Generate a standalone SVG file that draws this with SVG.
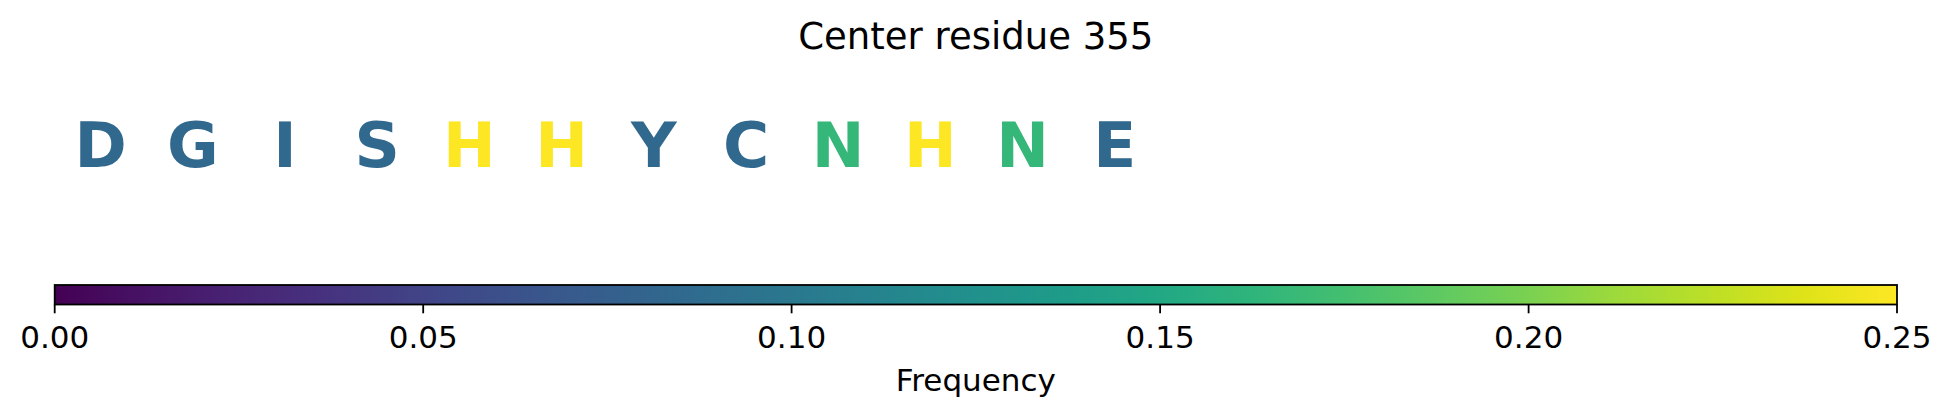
<svg xmlns="http://www.w3.org/2000/svg" width="1952" height="416" viewBox="0 0 1952 416">
<defs>
<style>
.t{font-family:"DejaVu Sans","Liberation Sans",sans-serif;fill:#000;text-anchor:middle}
.r{font-family:"DejaVu Sans","Liberation Sans",sans-serif;font-weight:bold;font-size:63px;text-anchor:middle}
.lo{fill:#31688e}.mid{fill:#35b779}.hi{fill:#fde725}
.tick{stroke:#000;stroke-width:1.8}
</style>
<linearGradient id="viridis" x1="0" y1="0" x2="1" y2="0">
<stop offset="0" stop-color="#440154"/>
<stop offset="0.05" stop-color="#471365"/>
<stop offset="0.1" stop-color="#482475"/>
<stop offset="0.15" stop-color="#46337f"/>
<stop offset="0.2" stop-color="#414487"/>
<stop offset="0.25" stop-color="#3b528b"/>
<stop offset="0.3" stop-color="#355f8d"/>
<stop offset="0.35" stop-color="#2f6c8e"/>
<stop offset="0.4" stop-color="#2a788e"/>
<stop offset="0.45" stop-color="#25848e"/>
<stop offset="0.5" stop-color="#21918c"/>
<stop offset="0.55" stop-color="#1e9c89"/>
<stop offset="0.6" stop-color="#22a884"/>
<stop offset="0.65" stop-color="#2fb47c"/>
<stop offset="0.7" stop-color="#44bf70"/>
<stop offset="0.75" stop-color="#5ec962"/>
<stop offset="0.8" stop-color="#7ad151"/>
<stop offset="0.85" stop-color="#9fda3a"/>
<stop offset="0.9" stop-color="#bddf26"/>
<stop offset="0.95" stop-color="#dfe318"/>
<stop offset="1" stop-color="#fde725"/>
</linearGradient>
</defs>
<rect width="1952" height="416" fill="#fff"/>
<text id="title" class="t" x="975.8" y="49.3" font-size="37">Center residue 355</text>
<g id="residues">
<text id="res0" class="r lo" x="100.6" y="166.7">D</text>
<text id="res1" class="r lo" x="192.8" y="166.7">G</text>
<text id="res2" class="r lo" x="285" y="166.7">I</text>
<text id="res3" class="r lo" x="377.2" y="166.7">S</text>
<text id="res4" class="r hi" x="469.4" y="166.7">H</text>
<text id="res5" class="r hi" x="561.6" y="166.7">H</text>
<text id="res6" class="r lo" x="653.8" y="166.7">Y</text>
<text id="res7" class="r lo" x="746" y="166.7">C</text>
<text id="res8" class="r mid" x="838.2" y="166.7">N</text>
<text id="res9" class="r hi" x="930.4" y="166.7">H</text>
<text id="res10" class="r mid" x="1022.6" y="166.7">N</text>
<text id="res11" class="r lo" x="1114.8" y="166.7">E</text>
</g>
<g id="colorbar">
<rect x="54.7" y="285" width="1842.3" height="19.5" fill="url(#viridis)" stroke="#000" stroke-width="1.8"/>
<g id="ticks">
<line class="tick" x1="54.7" y1="304.5" x2="54.7" y2="313.3"/>
<line class="tick" x1="423.2" y1="304.5" x2="423.2" y2="313.3"/>
<line class="tick" x1="791.6" y1="304.5" x2="791.6" y2="313.3"/>
<line class="tick" x1="1160.1" y1="304.5" x2="1160.1" y2="313.3"/>
<line class="tick" x1="1528.6" y1="304.5" x2="1528.6" y2="313.3"/>
<line class="tick" x1="1897" y1="304.5" x2="1897" y2="313.3"/>
</g>
<g id="ticklabels" font-size="31">
<text class="t" x="54.7" y="348.3">0.00</text>
<text class="t" x="423.2" y="348.3">0.05</text>
<text class="t" x="791.6" y="348.3">0.10</text>
<text class="t" x="1160.1" y="348.3">0.15</text>
<text class="t" x="1528.6" y="348.3">0.20</text>
<text class="t" x="1897" y="348.3">0.25</text>
</g>
<text id="xlabel" class="t" x="975.8" y="391" font-size="31">Frequency</text>
</g>
</svg>
